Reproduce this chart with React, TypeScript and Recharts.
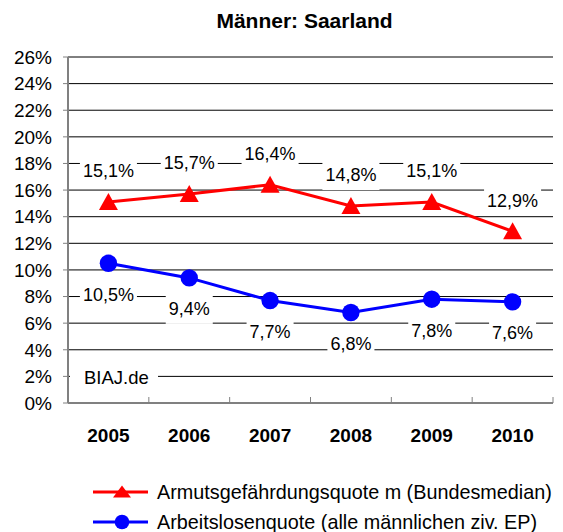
import { CartesianGrid, LabelList, Line, LineChart, XAxis, YAxis } from 'recharts';

// Männer: Saarland — Armutsgefährdungsquote vs. Arbeitslosenquote, 2005–2010

const YEARS = ['2005', '2006', '2007', '2008', '2009', '2010'];
const ARMUT_M = [15.1, 15.7, 16.4, 14.8, 15.1, 12.9];
const ALO_M = [10.5, 9.4, 7.7, 6.8, 7.8, 7.6];
const Y_TICKS = [0, 2, 4, 6, 8, 10, 12, 14, 16, 18, 20, 22, 24, 26];

const ARMUT_NAME = 'Armutsgefährdungsquote m (Bundesmedian)';
const ALO_NAME = 'Arbeitslosenquote (alle männlichen ziv. EP)';
const RED = '#ff0000';
const BLUE = '#0000ff';
const AXIS = '#808080';
const FONT = '"Liberation Sans", Arial, sans-serif';

const W = 563;
const H = 532;

const data = YEARS.map((year, i) => ({ year, armut: ARMUT_M[i], alo: ALO_M[i] }));

const fmt = (v: number) => v.toFixed(1).replace('.', ',') + '%';

// rough Arial advance widths, enough to size the white label boxes
const textWidth = (s: string, size: number) => {
  let w = 0;
  for (const ch of s) w += ch === ',' ? 0.278 : ch === '%' ? 0.889 : 0.556;
  return w * size;
};

function makeLabel(dy: number) {
  return (props: any) => {
    const { x, y, value } = props;
    if (x == null || y == null) return null;
    const text = fmt(Number(value));
    const w = textWidth(text, 18) + 6;
    const cy = y + dy;
    return (
      <g>
        <rect x={x - w / 2} y={cy - 15} width={w} height={30} fill="#fff" />
        <text x={x} y={cy} dy="0.355em" textAnchor="middle" fontSize={18} fontFamily={FONT} fill="#000">
          {text}
        </text>
      </g>
    );
  };
}

function triangleDot(props: any) {
  const { cx, cy, index } = props;
  return (
    <polygon
      key={`tri-${index}`}
      points={`${cx},${cy - 9} ${cx + 9.5},${cy + 8} ${cx - 9.5},${cy + 8}`}
      fill={RED}
    />
  );
}

function circleDot(props: any) {
  const { cx, cy, index } = props;
  return <circle key={`dot-${index}`} cx={cx} cy={cy} r={8.7} fill={BLUE} />;
}

function YearTick(props: any) {
  const { x, y, payload, index, visibleTicksCount } = props;
  const half = payload?.offset || 40.4;
  const last = index === visibleTicksCount - 1;
  return (
    <g>
      <line x1={x - half} x2={x - half} y1={y} y2={y - 6} stroke={AXIS} />
      {last ? <line x1={x + half} x2={x + half} y1={y} y2={y - 6} stroke={AXIS} /> : null}
      <text x={x} y={y + 32} dy="0.355em" textAnchor="middle" fontSize={19} fontWeight="bold" fontFamily={FONT} fill="#000">
        {payload.value}
      </text>
    </g>
  );
}

export default function App() {
  return (
    <div style={{ position: 'absolute', left: 0, top: 0, width: W, height: H, background: '#fff', fontFamily: FONT }}>
      <LineChart width={W} height={H} data={data} margin={{ top: 57, right: 10, bottom: 0, left: 0 }}>
        <CartesianGrid horizontal vertical={false} stroke="#000" strokeWidth={1} />
        <XAxis
          dataKey="year"
          scale="band"
          height={129}
          interval={0}
          axisLine={{ stroke: AXIS, strokeWidth: 2 }}
          tickLine={false}
          tickSize={0}
          tickMargin={0}
          tick={(p: any) => <YearTick {...p} />}
        />
        <YAxis
          domain={[0, 26]}
          ticks={Y_TICKS}
          interval={0}
          width={68}
          tickFormatter={(v: number) => `${v}%`}
          axisLine={{ stroke: AXIS, strokeWidth: 2 }}
          tickLine={{ stroke: AXIS }}
          tickSize={5}
          tickMargin={11}
          tick={{ fill: '#000', fontSize: 19, fontFamily: FONT }}
        />
        <Line
          dataKey="armut"
          name={ARMUT_NAME}
          stroke={RED}
          strokeWidth={3}
          dot={triangleDot}
          activeDot={false}
          isAnimationActive={false}
        >
          <LabelList dataKey="armut" content={makeLabel(-31)} />
        </Line>
        <Line
          dataKey="alo"
          name={ALO_NAME}
          stroke={BLUE}
          strokeWidth={3}
          dot={circleDot}
          activeDot={false}
          isAnimationActive={false}
        >
          <LabelList dataKey="alo" content={makeLabel(31)} />
        </Line>
      </LineChart>
      <svg width={W} height={H} style={{ position: 'absolute', left: 0, top: 0, pointerEvents: 'none' }}>
        <text x={304.5} y={21} dy="0.355em" textAnchor="middle" fontSize={21} fontWeight="bold" fontFamily={FONT}>
          Männer: Saarland
        </text>
        <rect x={70} y={365} width={88} height={24} fill="#fff" />
        <text x={84} y={377} dy="0.355em" fontSize={18.5} fontFamily={FONT}>
          BIAJ.de
        </text>
        <g>
          <line x1={93} x2={148} y1={492} y2={492} stroke={RED} strokeWidth={3} />
          <polygon points={`122,485.5 131,497.5 113,497.5`} fill={RED} />
          <text x={157} y={492} dy="0.355em" fontSize={19.8} fontFamily={FONT}>
            {ARMUT_NAME}
          </text>
        </g>
        <g>
          <line x1={93} x2={148} y1={522} y2={522} stroke={BLUE} strokeWidth={3} />
          <circle cx={122} cy={522} r={7.3} fill={BLUE} />
          <text x={157} y={522} dy="0.355em" fontSize={19.8} fontFamily={FONT}>
            {ALO_NAME}
          </text>
        </g>
      </svg>
    </div>
  );
}
